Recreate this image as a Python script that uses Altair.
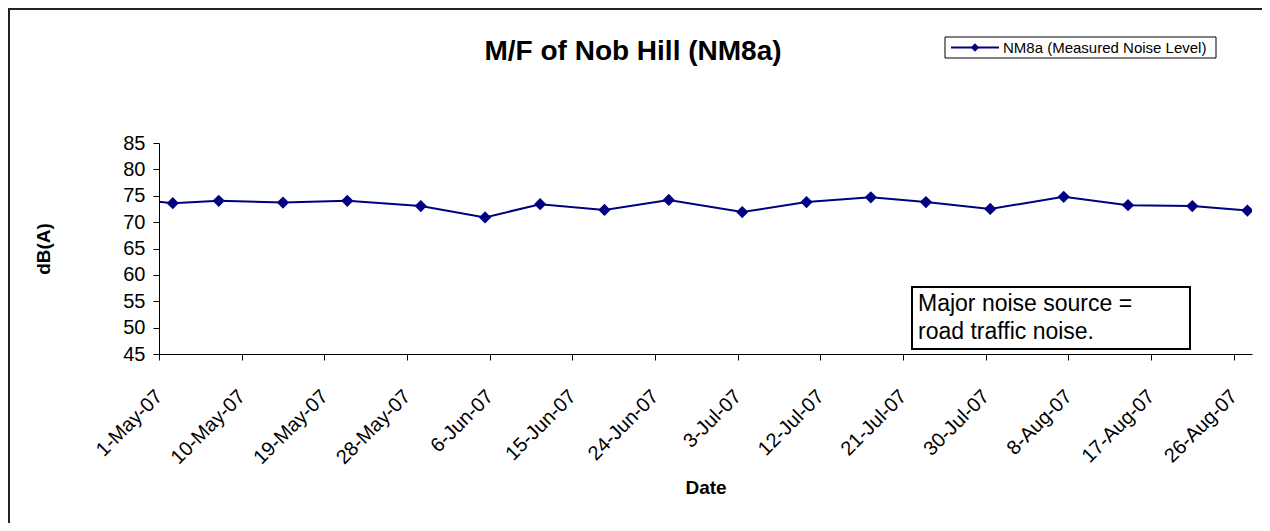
import altair as alt
import pandas as pd

# ---- data ----
dates = [
    "2007-04-25T12:00:00", "2007-05-02T12:00:00", "2007-05-07T12:00:00",
    "2007-05-14T12:00:00", "2007-05-21T12:00:00", "2007-05-29T12:00:00",
    "2007-06-05T12:00:00", "2007-06-11T12:00:00", "2007-06-18T12:00:00",
    "2007-06-25T12:00:00", "2007-07-03T12:00:00", "2007-07-10T12:00:00",
    "2007-07-17T12:00:00", "2007-07-23T12:00:00", "2007-07-30T12:00:00",
    "2007-08-07T12:00:00", "2007-08-14T12:00:00", "2007-08-21T12:00:00",
    "2007-08-27T12:00:00",
]
levels = [74.9, 73.6, 74.05, 73.7, 74.05, 73.05, 70.9, 73.4, 72.3, 74.2,
          71.9, 73.8, 74.7, 73.8, 72.5, 74.8, 73.2, 73.05, 72.2]

x_tick_dates = [(5, 1), (5, 10), (5, 19), (5, 28), (6, 6), (6, 15), (6, 24),
                (7, 3), (7, 12), (7, 21), (7, 30), (8, 8), (8, 17), (8, 26)]
x_domain = [(5, 1), (8, 28)]
y_ticks = [45, 50, 55, 60, 65, 70, 75, 80, 85]
y_domain = [45, 85]

chart_title = "M/F of Nob Hill (NM8a)"
series_name = "NM8a (Measured Noise Level)"
note_lines = ["Major noise source =", "road traffic noise."]
x_title = "Date"
y_title = "dB(A)"

NAVY = "#000080"
FONT = "Liberation Sans"

df = pd.DataFrame({"Date": dates, "Level": levels})
one = alt.Data(values=[{"k": 1}])


def dt(md):
    return alt.DateTime(year=2007, month=md[0], date=md[1])


x_enc = alt.X(
    "Date:T",
    scale=alt.Scale(domain=[dt(d) for d in x_domain]),
    axis=alt.Axis(
        values=[dt(d) for d in x_tick_dates],
        format="%-d-%b-%y",
        labelAngle=315,
        labelAlign="right",
        labelBaseline="middle",
        labelPadding=33,
        labelFontSize=20,
        labelFlush=False,
        labelOverlap=False,
        labelColor="black",
        tickSize=6,
        tickColor="black",
        domainColor="black",
        grid=False,
        title=x_title,
        titleFontSize=19,
        titleFontWeight="bold",
        titleColor="black",
        titleY=133,
        titleBaseline="middle",
    ),
)
y_enc = alt.Y(
    "Level:Q",
    scale=alt.Scale(domain=y_domain, nice=False, zero=False),
    axis=alt.Axis(
        values=y_ticks,
        tickCount=len(y_ticks),
        labelFontSize=20,
        labelPadding=8,
        labelOverlap=False,
        labelFlush=False,
        labelColor="black",
        tickSize=6,
        tickColor="black",
        domainColor="black",
        grid=False,
        title=y_title,
        titleFontSize=19,
        titleFontWeight="bold",
        titleColor="black",
        titleAngle=270,
        titleX=-116,
        titleY=105.5,
        titleAlign="center",
        titleBaseline="middle",
    ),
)

line = alt.Chart(df).mark_line(color=NAVY, strokeWidth=2, clip=True).encode(x=x_enc, y=y_enc)
points = alt.Chart(df).mark_point(
    shape="diamond", filled=True, size=150, color=NAVY, opacity=1, clip=True
).encode(x=x_enc, y=y_enc)

# outer chart frame (only the top and left edges are visible in the reference)
frame_top = alt.Chart(one).mark_rule(color="#222222", strokeWidth=2).encode(
    x=alt.value(-150), x2=alt.value(1103), y=alt.value(-134)
)
frame_left = alt.Chart(one).mark_rule(color="#222222", strokeWidth=2).encode(
    x=alt.value(-150), y=alt.value(-135), y2=alt.value(380)
)

title = alt.Chart(one).mark_text(
    text=chart_title, font=FONT, fontSize=28, fontWeight="bold", color="black",
    align="center", baseline="middle"
).encode(x=alt.value(474), y=alt.value(-91))

legend_box = alt.Chart(one).mark_rect(fill="white", stroke="black", strokeWidth=1).encode(
    x=alt.value(786), x2=alt.value(1057), y=alt.value(-106), y2=alt.value(-85)
)
legend_line = alt.Chart(one).mark_rule(color=NAVY, strokeWidth=2).encode(
    x=alt.value(792), x2=alt.value(840), y=alt.value(-95.5)
)
legend_pt = alt.Chart(one).mark_point(
    shape="diamond", filled=True, size=70, color=NAVY, opacity=1
).encode(x=alt.value(816), y=alt.value(-95.5))
legend_txt = alt.Chart(one).mark_text(
    text=series_name, font=FONT, fontSize=15, color="black", align="left", baseline="middle"
).encode(x=alt.value(844), y=alt.value(-95.5))

note_box = alt.Chart(one).mark_rect(fill="white", stroke="black", strokeWidth=2).encode(
    x=alt.value(753), x2=alt.value(1031), y=alt.value(144), y2=alt.value(206)
)
note_txt = alt.Chart(one).mark_text(
    text=note_lines, font=FONT, fontSize=23, lineHeight=28, color="black",
    align="left", baseline="alphabetic"
).encode(x=alt.value(759), y=alt.value(168))

chart = alt.layer(
    frame_top, frame_left, line, points, title, legend_box, legend_line, legend_pt,
    legend_txt, note_box, note_txt
).properties(
    width=1093,
    height=211,
    autosize=alt.AutoSizeParams(type="none"),
    padding={"left": 151, "top": 135, "right": 10, "bottom": 169},
    background="white",
).configure(font=FONT).configure_view(stroke=None)

chart.save("out.html", embed_options={"renderer": "svg", "actions": False})
